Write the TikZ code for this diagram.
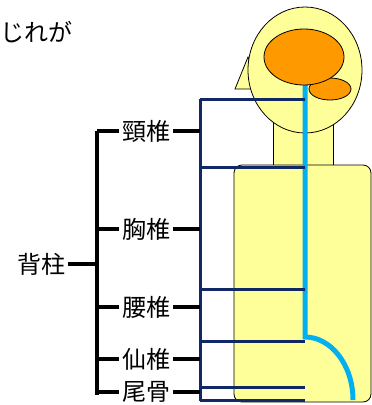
\documentclass[tikz,border=0pt]{standalone}
\usepackage{fontspec}
\newfontfamily\jpfont{Noto Sans CJK JP}
\usetikzlibrary{calc}

\definecolor{skin}{RGB}{255,255,153}
\definecolor{brain}{RGB}{255,153,0}
\definecolor{cord}{RGB}{0,176,240}
\definecolor{navy}{RGB}{16,40,100}

\tikzset{
  lbl/.style={font=\jpfont\fontsize{24}{24}\selectfont, inner sep=3pt},
  brk/.style={line width=3.5pt},
  lvl/.style={navy, line width=3pt},
  part/.style={draw=black, line width=0.8pt, fill=skin}
}

\begin{document}
\begin{tikzpicture}[x=1pt, y=-1pt]
\useasboundingbox (0,0) rectangle (372,405);

% body
\draw[part] (235,89) -- (248,57) -- (262,89) -- cycle;
\draw[part] (273,110) rectangle (333,168);
\draw[part, rounded corners=8pt] (234,165) rectangle (371,402);
\draw[part] (305,70) ellipse [x radius=57, y radius=63];

% spinal cord
\draw[cord, line width=5pt] (305,84) -- (305,337)
  .. controls (331,337) and (353,365) .. (353,400);

% brain
\draw[fill=brain, line width=0.8pt] (330,89) ellipse [x radius=21, y radius=11];
\draw[fill=brain, line width=0.8pt] (304,57) ellipse [x radius=40, y radius=28];

% levels
\coordinate (spine) at (97,0);
\coordinate (rail) at (200,0);
\draw[lvl] (200,99) -- (200,401);
\foreach \y in {99,167,289,341,387,400}
  \draw[lvl] (rail |- 0,\y) -- (305,\y);

% labels
\node[lbl, anchor=west] (tail) at (-3,32) {じれが};
\node[lbl] (keitsui) at (146,131) {頸椎};
\node[lbl] (kyoutsui) at (146,229) {胸椎};
\node[lbl] (youtsui) at (146,307) {腰椎};
\node[lbl] (sentsui) at (146,359) {仙椎};
\node[lbl] (bikotsu) at (146,392) {尾骨};
\node[lbl] (sekichu) at (41,264) {背柱};

% bracket
\draw[brk] (97,131) -- (97,395);
\draw[brk] (sekichu.east) -- (sekichu.east -| spine);
\foreach \n in {keitsui,kyoutsui,youtsui,sentsui,bikotsu} {
  \draw[brk] (\n.west) -- (\n.west -| spine);
  \draw[brk] (\n.east) -- (\n.east -| rail);
}
\end{tikzpicture}
\end{document}
